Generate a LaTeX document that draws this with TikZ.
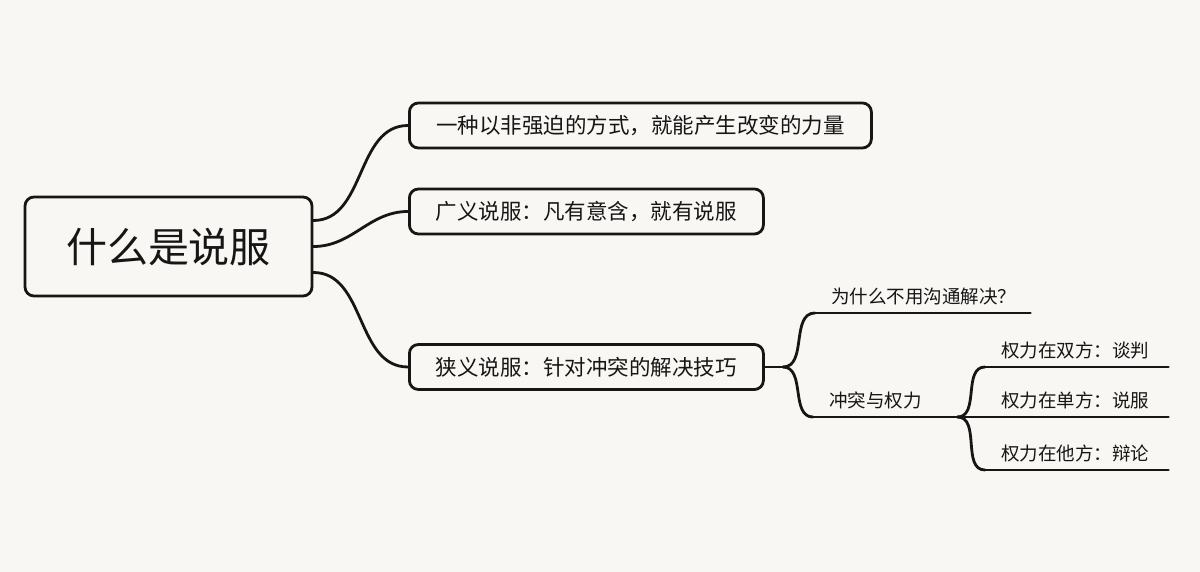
\documentclass[tikz,border=0pt]{standalone}
\usepackage{fontspec}
\setmainfont{Noto Sans CJK SC}
\definecolor{paper}{RGB}{249,247,244}
\definecolor{ink}{RGB}{22,22,22}
\newcommand{\RootFont}{\fontsize{41}{44}\selectfont}
\newcommand{\TopicFont}{\fontsize{21.5}{24}\selectfont}
\newcommand{\LeafFont}{\fontsize{18.5}{20}\selectfont}
\tikzset{topic/.style={draw=ink,line width=2.8pt,rounded corners=9pt,inner sep=0pt,text=ink}}
\tikzset{leaf/.style={anchor=south west,text width=#1,align=left,inner xsep=16pt,inner ysep=8pt,text=ink,font=\LeafFont}}
\tikzset{link/.style={draw=ink,line width=2.8pt,line cap=round}}

\begin{document}
\begin{tikzpicture}[x=1pt,y=-1pt]
\fill[paper](0,0)rectangle(1200,572);
\useasboundingbox(0,0)rectangle(1200,572);
\node[topic,minimum width=287pt,minimum height=99pt,font=\RootFont](root)at(168.5,246.5){什么是说服\hspace{8pt}};
\begin{scope}[every node/.style={topic,anchor=west,minimum height=45pt,font=\TopicFont}]
\node[minimum width=462pt](def)at(408,125.5){一种以非强迫的方式，就能产生改变的力量};
\node[minimum width=354pt](wide)at(408,211.5){广义说服：凡有意含，就有说服};
\node[minimum width=354pt](narrow)at(408,367){狭义说服：针对冲突的解决技巧};
\end{scope}
\draw[link]([yshift=26pt]root.east)to[out=0,in=180](def.west);
\draw[link](root.east)to[out=0,in=180](wide.west);
\draw[link]([yshift=-26pt]root.east)to[out=0,in=180](narrow.west);
\node[leaf=183pt](why)at(815,313){为什么不用沟通解决？};
\node[leaf=112pt](power)at(813,417){冲突与权力};
\node[leaf=151pt](both)at(985,367){权力在双方：谈判};
\node[leaf=151pt](one)at(985,417){权力在单方：说服};
\node[leaf=151pt](other)at(985,470){权力在他方：辩论};
\foreach \n in {why,power,both,one,other}\draw[link](\n.south west)--(\n.south east);
\coordinate(fork)at(783,367);
\draw[link](narrow.east)--(fork);
\draw[link](fork)to[out=0,in=180](why.south west);\draw[link](fork)to[out=0,in=180](power.south west);
\draw[link](power.south east)to[out=0,in=180](both.south west);\draw[link](power.south east)--(one.south west);
\draw[link](power.south east)to[out=0,in=180](other.south west);
\end{tikzpicture}
\end{document}
